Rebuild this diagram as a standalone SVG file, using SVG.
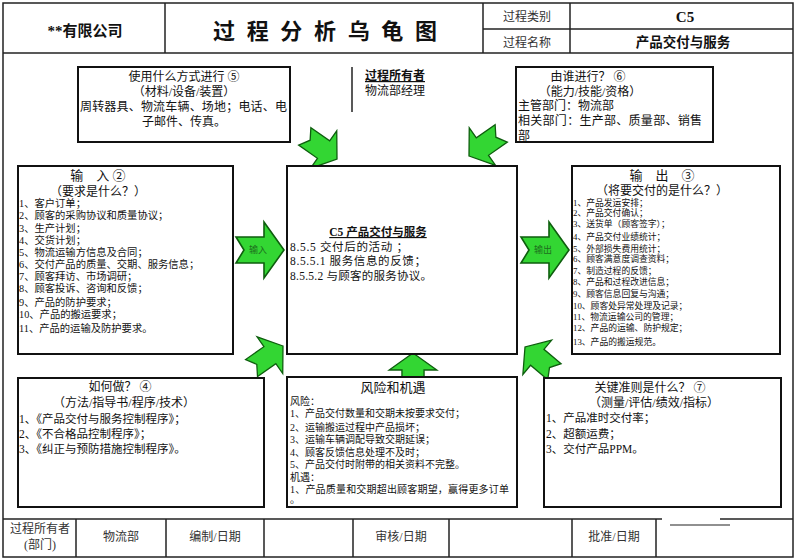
<svg xmlns="http://www.w3.org/2000/svg" width="797" height="560" viewBox="0 0 797 560">
<style>
text{font-family:"Liberation Serif","Noto Sans CJK SC",serif;fill:#111}
.box{fill:#fff;stroke:#111;stroke-width:2}
.ln{stroke:#222;stroke-width:1.5;fill:none}
.c{text-anchor:middle}
.b{font-weight:bold}
.f12{font-size:12px}
.f13{font-size:13px}
.f10{font-size:10px}
.f9{font-size:8.8px}
.f11{font-size:11.5px}
.ft{font-size:12px;fill:#333}
.arr{fill:#33d633;stroke:#0e5e0e;stroke-width:1.6;stroke-linejoin:miter}
.al{font-size:9px;fill:#1d6e1d;text-anchor:middle}
</style>
<defs>
<path id="ar" d="M0,0 L-20,-28 L-20,-13 L-48,-13 L-40,0 L-48,13 L-20,13 L-20,28 Z"/>
</defs>
<rect x="0" y="0" width="797" height="560" fill="#fff"/>
<g id="frame">
<rect x="3" y="3" width="790" height="554" class="ln"/>
<line x1="3" y1="53" x2="793" y2="53" class="ln"/>
<line x1="165" y1="3" x2="165" y2="53" class="ln"/>
<line x1="483" y1="3" x2="483" y2="53" class="ln"/>
<line x1="570" y1="3" x2="570" y2="53" class="ln"/>
<line x1="483" y1="29" x2="793" y2="29" class="ln"/>
<text x="85" y="36" class="c b" font-size="15">**有限公司</text>
<text x="325" y="39" class="c b" font-size="22" textLength="224" lengthAdjust="spacing">过 程 分 析 乌 龟 图</text>
<text x="527" y="21" class="c ft">过程类别</text>
<text x="685" y="22" class="c b" font-size="15">C5</text>
<text x="527" y="47" class="c ft">过程名称</text>
<text x="683" y="47" class="c b" font-size="13.5">产品交付与服务</text>
</g>
<g id="connectors">
<g class="arr">
<use href="#ar" transform="translate(284,250)"/>
<use href="#ar" transform="translate(569,250)"/>
<use href="#ar" transform="translate(337,159) rotate(35) scale(0.82)"/>
<use href="#ar" transform="translate(469,156) rotate(145) scale(0.82)"/>
<use href="#ar" transform="translate(283,346) rotate(-35) scale(0.8)"/>
<use href="#ar" transform="translate(525,347) rotate(-140) scale(0.8)"/>
<use href="#ar" transform="translate(413,353) rotate(-90) scale(0.85)"/>
</g>
<text x="258" y="253" class="al">输入</text>
<text x="543" y="253" class="al">输出</text>
</g>
<g id="n-how">
<rect x="78" y="67" width="212" height="75" class="box"/>
<text x="184" y="81" class="c f12">使用什么方式进行 ⑤</text>
<text x="184" y="96" class="c f12">（材料/设备/装置）</text>
<text x="80" y="111" class="f12" textLength="207">周转器具、物流车辆、场地；电话、电</text>
<text x="184" y="126" class="c f12">子邮件、传真。</text>
</g>
<g id="n-owner">
<line x1="352" y1="67" x2="352" y2="112" class="ln"/>
<text x="395" y="80" class="c b f12" text-decoration="underline">过程所有者</text>
<text x="395" y="95" class="c f12">物流部经理</text>
</g>
<g id="n-who">
<rect x="516" y="67" width="197" height="75" class="box"/>
<text x="588" y="81" class="c f12">由谁进行？  ⑥</text>
<text x="590" y="96" class="c f12">（能力/技能/资格）</text>
<text x="518" y="110" class="f12">主管部门：物流部</text>
<text x="518" y="125" class="f12" textLength="184">相关部门：生产部、质量部、销售</text>
<text x="518" y="140" class="f12">部</text>
</g>
<g id="n-input">
<rect x="18" y="166" width="215" height="188" class="box"/>
<text x="98" y="180" class="c f13">输　入 ②</text>
<text x="98" y="196" class="c f12">（要求是什么？）</text>
<g font-size="10.3px">
<text x="19" y="207">1、客户订单；</text>
<text x="19" y="219">2、顾客的采购协议和质量协议；</text>
<text x="19" y="232">3、生产计划；</text>
<text x="19" y="244">4、交货计划；</text>
<text x="19" y="256">5、物流运输方信息及合同；</text>
<text x="19" y="268">6、交付产品的质量、交期、服务信息；</text>
<text x="19" y="280">7、顾客拜访、市场调研；</text>
<text x="19" y="292">8、顾客投诉、咨询和反馈；</text>
<text x="19" y="306">9、产品的防护要求；</text>
<text x="19" y="318">10、产品的搬运要求；</text>
<text x="19" y="332">11、产品的运输及防护要求。</text>
</g>
</g>
<g id="n-process">
<rect x="287" y="166" width="230" height="188" class="box"/>
<text x="378" y="236" class="c b f11" text-decoration="underline">C5  产品交付与服务</text>
<text x="290" y="251" class="f11" textLength="118">8.5.5 交付后的活动 ；</text>
<text x="290" y="265" class="f11" textLength="136">8.5.5.1 服务信息的反馈；</text>
<text x="290" y="280" class="f11" textLength="142">8.5.5.2 与顾客的服务协议。</text>
</g>
<g id="n-output">
<rect x="572" y="166" width="208" height="188" class="box"/>
<text x="662" y="180" class="c f13">输　出　③</text>
<text x="662" y="195" class="c f12">（将要交付的是什么？）</text>
<g class="f9">
<text x="573" y="206">1、产品发运安排；</text>
<text x="573" y="216">2、产品交付确认；</text>
<text x="573" y="227">3、送货单（顾客签字）；</text>
<text x="573" y="240">4、产品交付业绩统计；</text>
<text x="573" y="252">5、外部损失费用统计；</text>
<text x="573" y="262">6、顾客满意度调查资料；</text>
<text x="573" y="274">7、制造过程的反馈；</text>
<text x="573" y="285">8、产品和过程改进信息；</text>
<text x="573" y="297">9、顾客信息回复与沟通；</text>
<text x="573" y="309">10、顾客处异常处理及记录；</text>
<text x="573" y="320">11、物流运输公司的管理；</text>
<text x="573" y="331">12、产品的运输、防护规定；</text>
<text x="573" y="345">13、产品的搬运规范。</text>
</g>
</g>
<g id="n-method">
<rect x="18" y="378" width="246" height="129" class="box"/>
<text x="120" y="391" class="c f12">如何做？  ④</text>
<text x="124" y="407" class="c f12">（方法/指导书/程序/技术）</text>
<text x="19" y="423" class="f11">1、《产品交付与服务控制程序》；</text>
<text x="19" y="438" class="f11">2、《不合格品控制程序》；</text>
<text x="19" y="453" class="f11">3、《纠正与预防措施控制程序》。</text>
</g>
<g id="n-risk">
<rect x="287" y="377" width="230" height="130" class="box"/>
<text x="393" y="392" class="c f13">风险和机遇</text>
<g class="f10">
<text x="290" y="405">风险：</text>
<text x="290" y="417">1、产品交付数量和交期未按要求交付；</text>
<text x="290" y="431">2、运输搬运过程中产品损坏；</text>
<text x="290" y="443">3、运输车辆调配导致交期延误；</text>
<text x="290" y="456">4、顾客反馈信息处理不及时；</text>
<text x="290" y="468">5、产品交付时附带的相关资料不完整。</text>
<text x="290" y="481">机遇：</text>
<text x="290" y="493" textLength="219">1、产品质量和交期超出顾客期望，赢得更多订单</text>
<text x="290" y="503">。</text>
</g>
</g>
<g id="n-criteria">
<rect x="544" y="378" width="237" height="129" class="box"/>
<text x="650" y="392" class="c f12">关键准则是什么？  ⑦</text>
<text x="654" y="407" class="c f12">（测量/评估/绩效/指标）</text>
<text x="546" y="422" class="f11">1、产品准时交付率；</text>
<text x="546" y="438" class="f11">2、超额运费；</text>
<text x="546" y="453" class="f11">3、交付产品PPM。</text>
</g>
<g id="footer">
<line x1="3" y1="519" x2="662" y2="519" class="ln"/>
<line x1="720" y1="519" x2="793" y2="519" class="ln"/>
<line x1="670" y1="525" x2="730" y2="525" stroke="#222" stroke-width="1.2"/>
<line x1="76" y1="519" x2="76" y2="557" class="ln"/>
<line x1="166" y1="519" x2="166" y2="557" class="ln"/>
<line x1="264" y1="519" x2="264" y2="557" class="ln"/>
<line x1="353" y1="519" x2="353" y2="557" class="ln"/>
<line x1="449" y1="519" x2="449" y2="557" class="ln"/>
<line x1="572" y1="519" x2="572" y2="557" class="ln"/>
<line x1="656" y1="519" x2="656" y2="557" class="ln"/>
<text x="40" y="533" class="c ft">过程所有者</text>
<text x="40" y="549" class="c ft">(部门)</text>
<text x="121" y="541" class="c ft">物流部</text>
<text x="215" y="541" class="c ft">编制/日期</text>
<text x="401" y="541" class="c ft">审核/日期</text>
<text x="614" y="541" class="c ft">批准/日期</text>
</g>
</svg>
